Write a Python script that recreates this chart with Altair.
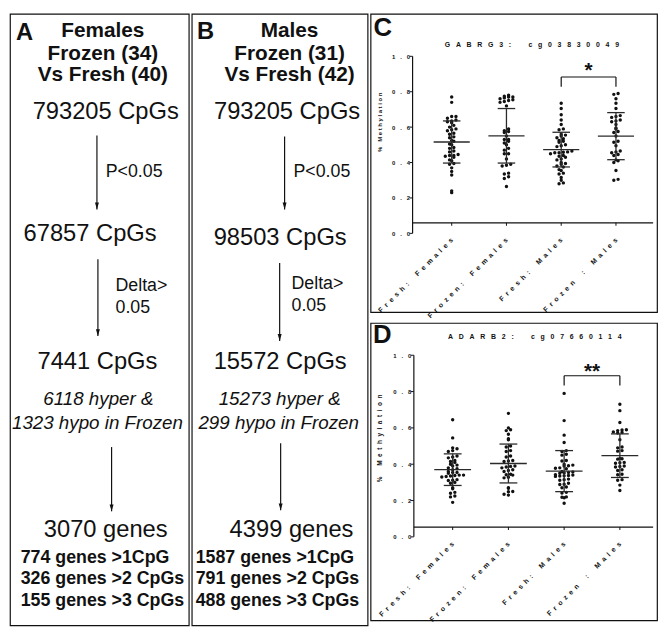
import altair as alt
import pandas as pd

FONT = "Liberation Sans, Arial, Helvetica, sans-serif"
INK = "#111111"
NB = "\u00a0"
ARROW = "M-0.5,-1.75L0.5,-1.75L0,0Z"


def spaced(s, gap=2):
    return (NB * gap).join(NB * gap if ch == " " else ch for ch in s)


# ---------------- Panel A / B : flow diagrams (text data) ----------------
a_letter = "A"
a_header = ["Females", "Frozen (34)", "Vs Fresh (40)"]
a_counts = ["793205 CpGs", "67857 CpGs", "7441 CpGs", "3070 genes"]
a_filters = ["P<0.05", "Delta>", "0.05"]
a_direction = ["6118 hyper &", "1323 hypo in Frozen"]
a_genes = ["774 genes >1CpG", "326 genes >2 CpGs", "155 genes >3 CpGs"]

b_letter = "B"
b_header = ["Males", "Frozen (31)", "Vs Fresh (42)"]
b_counts = ["793205 CpGs", "98503 CpGs", "15572 CpGs", "4399 genes"]
b_filters = ["P<0.05", "Delta>", "0.05"]
b_direction = ["15273 hyper &", "299 hypo in Frozen"]
b_genes = ["1587 genes >1CpG", "791 genes >2 CpGs", "488 genes >3 CpGs"]

# ---------------- Panel C / D : scatter dot plots ----------------
groups = ["Fresh: Females", "Frozen: Females", "Fresh: Males", "Frozen : Males"]
y_ticks = [0.0, 0.2, 0.4, 0.6, 0.8, 1.0]
y_title = "% Methylation"

c_title = "GABRG3: cg03830049"
c_fresh_females = [0.77, 0.74, 0.66, 0.66, 0.65, 0.64, 0.635, 0.63, 0.625, 0.61, 0.60,
                   0.59, 0.585, 0.58, 0.565, 0.56, 0.545, 0.54, 0.525, 0.52, 0.505, 0.50,
                   0.485, 0.48, 0.465, 0.46, 0.445, 0.44, 0.44, 0.435, 0.43, 0.415, 0.41,
                   0.395, 0.39, 0.37, 0.35, 0.33, 0.24, 0.23]
c_frozen_females = [0.78, 0.775, 0.77, 0.77, 0.765, 0.76, 0.755, 0.75, 0.745, 0.74, 0.72,
                    0.59, 0.58, 0.575, 0.57, 0.55, 0.53, 0.53, 0.52, 0.51, 0.50, 0.48, 0.47,
                    0.45, 0.45, 0.42, 0.39, 0.385, 0.38, 0.34, 0.335, 0.32, 0.31, 0.265]
c_fresh_males = [0.735, 0.705, 0.67, 0.64, 0.615, 0.59, 0.585, 0.56, 0.555, 0.55, 0.54,
                 0.535, 0.525, 0.52, 0.515, 0.50, 0.495, 0.49, 0.465, 0.46, 0.458, 0.455,
                 0.45, 0.455, 0.44, 0.435, 0.43, 0.42, 0.415, 0.40, 0.395, 0.39, 0.38, 0.375,
                 0.36, 0.355, 0.34, 0.335, 0.315, 0.30, 0.285, 0.28]
c_frozen_males = [0.79, 0.785, 0.76, 0.735, 0.705, 0.665, 0.66, 0.655, 0.64, 0.635, 0.63,
                  0.615, 0.595, 0.59, 0.575, 0.57, 0.55, 0.52, 0.515, 0.495, 0.465, 0.46,
                  0.455, 0.445, 0.44, 0.415, 0.41, 0.40, 0.355, 0.305, 0.30]
c_means = [0.516, 0.551, 0.473, 0.549]
c_sds = [0.119, 0.154, 0.098, 0.133]
c_sig = "*"

d_title = "ADARB2: cg07660114"
d_fresh_females = [0.645, 0.545, 0.49, 0.485, 0.475, 0.47, 0.445, 0.44, 0.435, 0.42, 0.415,
                   0.41, 0.40, 0.395, 0.39, 0.38, 0.375, 0.37, 0.36, 0.355, 0.35, 0.355,
                   0.34, 0.338, 0.335, 0.332, 0.33, 0.34, 0.315, 0.31, 0.312, 0.30, 0.295,
                   0.27, 0.265, 0.245, 0.24, 0.225, 0.22, 0.19]
d_frozen_females = [0.68, 0.60, 0.59, 0.585, 0.565, 0.54, 0.535, 0.50, 0.495, 0.475, 0.47,
                    0.445, 0.44, 0.42, 0.418, 0.415, 0.39, 0.388, 0.385, 0.38, 0.37, 0.365,
                    0.36, 0.345, 0.34, 0.342, 0.328, 0.325, 0.27, 0.268, 0.25, 0.248, 0.235, 0.23]
d_fresh_males = [0.79, 0.64, 0.56, 0.52, 0.475, 0.47, 0.455, 0.45, 0.42, 0.418, 0.40, 0.395,
                 0.39, 0.392, 0.38, 0.378, 0.375, 0.36, 0.355, 0.352, 0.35, 0.357, 0.34, 0.338,
                 0.335, 0.333, 0.342, 0.336, 0.318, 0.315, 0.312, 0.295, 0.29, 0.288, 0.275,
                 0.27, 0.245, 0.242, 0.22, 0.218, 0.215, 0.185]
d_frozen_males = [0.73, 0.695, 0.63, 0.59, 0.588, 0.585, 0.578, 0.575, 0.572, 0.535, 0.495,
                  0.49, 0.475, 0.472, 0.432, 0.43, 0.428, 0.41, 0.408, 0.405, 0.39, 0.388,
                  0.385, 0.37, 0.365, 0.345, 0.342, 0.315, 0.312, 0.285, 0.255]
d_means = [0.370, 0.404, 0.362, 0.447]
d_sds = [0.087, 0.107, 0.113, 0.120]
d_sig = "**"
sig_pair = [2, 3]

# ---------------- layout (reference pixels inside each box) ----------------
REF_FLOW_H = 628
FLOW_H = 619
a_layout = dict(
    letter=(15, 20),
    header=[(95, 18), (95, 41), (95, 63)],
    counts=[(98, 101), (82, 226), (89.5, 358), (98, 530)],
    filters=[(98, 163), (108, 280), (108, 302)],
    direction=[(90.5, 396), (89.5, 420)],
    genes=[(11, 559), (11, 581), (11, 603)],
    arrows=[(89, 125, 201), (90, 252, 331), (104, 445, 511)],
)
b_layout = dict(
    letter=(14, 19),
    header=[(99, 18), (99, 41), (99, 63)],
    counts=[(96.5, 101), (89.5, 230), (89.5, 358), (101, 530)],
    filters=[(103, 163), (101, 278), (101, 300)],
    direction=[(89, 396), (88, 420)],
    genes=[(4, 559), (4, 581), (4, 603)],
    arrows=[(94, 126, 201), (89, 256, 336), (90, 441, 510)],
)
c_layout = dict(axis_x=43, y0=224.5, y1=43.5, cat0=83, cat3=251, hline_y=213.7, hline_x2=289,
                xaxis_y=228, letter=(12.5, 15), title=(165, 32), ytitle=(10, 111),
                ytitle_size=6, ytitle_gap=1, bracket=(0.883, 0.828), star=0.95)
d_layout = dict(axis_x=44.3, y0=218.7, y1=33, cat0=84, cat3=255, hline_y=208.7, hline_x2=289,
                xaxis_y=222.5, letter=(12, 12), title=(168, 14), ytitle=(10, 118),
                ytitle_size=6.5, ytitle_gap=2, bracket=(0.887, 0.833), star=0.94)


def ternary(labels, key):
    expr = "''"
    for i in reversed(range(len(labels))):
        expr = f"{key} == {i} ? '{labels[i]}' : ({expr})"
    return expr


def flow_panel(letter, header, counts, filters, direction, genes, lay, ref_w, w):
    xs = alt.Scale(domain=[0, ref_w], range=[0, w], nice=False, zero=False)
    ys = alt.Scale(domain=[0, REF_FLOW_H], range=[0, FLOW_H], nice=False, zero=False)

    def frame(texts, pos):
        return pd.DataFrame({"x": [p[0] for p in pos], "y": [p[1] for p in pos], "t": texts})

    def text_layer(df, **style):
        return alt.Chart(df).mark_text(font=FONT, color=INK, baseline="middle", **style).encode(
            x=alt.X("x:Q", scale=xs, axis=None),
            y=alt.Y("y:Q", scale=ys, axis=None),
            text="t:N",
        )

    arr = pd.DataFrame(lay["arrows"], columns=["x", "y1", "y2"])
    shaft = alt.Chart(arr).mark_rule(color=INK, strokeWidth=1.2).encode(
        x=alt.X("x:Q", scale=xs, axis=None), y=alt.Y("y1:Q", scale=ys, axis=None), y2="y2:Q")
    head = alt.Chart(arr).mark_point(shape=ARROW, filled=True, size=64, color=INK, opacity=1).encode(
        x=alt.X("x:Q", scale=xs, axis=None), y=alt.Y("y2:Q", scale=ys, axis=None))
    layers = [
        text_layer(frame([letter], [lay["letter"]]), fontSize=24, fontWeight="bold", align="center"),
        text_layer(frame(header, lay["header"]), fontSize=21, fontWeight="bold", align="center"),
        text_layer(frame(counts, lay["counts"]), fontSize=24, align="center"),
        text_layer(frame(filters, lay["filters"]), fontSize=18, align="left"),
        text_layer(frame(direction, lay["direction"]), fontSize=19, fontStyle="italic", align="center"),
        text_layer(frame(genes, lay["genes"]), fontSize=18, fontWeight="bold", align="left"),
        shaft,
        head,
    ]
    return alt.layer(*layers).properties(width=w, height=FLOW_H)


def dot_panel(letter, title, series, means, sds, sig, lay, w, h, ref_w, ref_h):
    sx, sy = w / ref_w, h / ref_h
    ax_px = lay["axis_x"] * sx
    hl_px = lay["hline_y"] * sy
    top_px, bot_px = lay["y1"] * sy, lay["y0"] * sy

    df = pd.DataFrame([(i, v) for i, vals in enumerate(series) for v in vals], columns=["g", "v"])
    xs = alt.Scale(domain=[0, 3], range=[lay["cat0"] * sx, lay["cat3"] * sx], nice=False, zero=False)
    ys = alt.Scale(domain=[0, 1], range=[bot_px, top_px], nice=False, zero=False)
    xlab = ternary([spaced(c, 2) for c in groups], "round(datum.value)")
    ylab = ternary([spaced(f"{t:.1f}", 3) for t in y_ticks], "round(datum.value*5)")
    xaxis = alt.Axis(values=[0, 1, 2, 3], labelExpr=xlab, labelAngle=-45, labelAlign="right",
                     labelBaseline="middle", labelFlush=False, labelOverlap=False, labelFont=FONT,
                     labelFontSize=7, labelFontWeight="bold", labelColor=INK, labelPadding=2,
                     domain=False, ticks=False, grid=False, title=None,
                     offset=lay["xaxis_y"] * sy - h)
    yaxis = alt.Axis(values=y_ticks, labelExpr=ylab, labelFlush=False,
                     labelOverlap=False, labelFont=FONT, labelFontSize=6, labelFontWeight="bold",
                     labelColor=INK, labelPadding=3, domain=False, ticks=False, grid=False,
                     title=None, offset=-ax_px)

    pts = (
        alt.Chart(df)
        .transform_calculate(b="floor(datum.v / 0.018)")
        .transform_window(r="row_number()", groupby=["g", "b"], sort=[alt.SortField("v", order="ascending")])
        .transform_joinaggregate(n="count()", groupby=["g", "b"])
        .transform_calculate(xo="datum.g + (datum.r - (datum.n + 1) / 2) * 0.078")
        .mark_circle(size=12, color=INK, opacity=1)
        .encode(x=alt.X("xo:Q", scale=xs, axis=xaxis), y=alt.Y("v:Q", scale=ys, axis=yaxis))
    )

    line_style = dict(color=INK, strokeWidth=1.2)
    one = pd.DataFrame({"k": [0]})
    # y axis line (value 0 .. 1) and the x axis line, drawn as frame lines of the panel
    yline = alt.Chart(one).mark_rule(**line_style).encode(
        x=alt.value(ax_px), y=alt.value(top_px), y2=alt.value(bot_px))
    hline = alt.Chart(one).mark_rule(**line_style).encode(
        x=alt.value(ax_px), x2=alt.value(lay["hline_x2"] * sx), y=alt.value(hl_px))
    # y ticks at the tick values, through the y scale
    ytk = alt.Chart(pd.DataFrame({"t": y_ticks})).mark_tick(
        orient="horizontal", size=3, thickness=1, color=INK, opacity=1).encode(
        y=alt.Y("t:Q", scale=ys), x=alt.value(ax_px - 1.5))
    # small ticks under the x line at each group, through the x scale
    xtk = alt.Chart(pd.DataFrame({"c": list(range(len(groups)))})).mark_tick(
        orient="vertical", size=3, thickness=1, color=INK, opacity=1).encode(
        x=alt.X("c:Q", scale=xs), y=alt.value(hl_px + 1.5))

    st = pd.DataFrame({"g": list(range(4)), "m": means, "s": sds})
    base = alt.Chart(st).transform_calculate(
        lo="datum.m - datum.s", hi="datum.m + datum.s",
        ml="datum.g - 0.33", mr="datum.g + 0.33",
        cl="datum.g - 0.16", cr="datum.g + 0.16",
    )
    rule_style = dict(color="#2a2a2a", strokeWidth=1.3)
    mean_r = base.mark_rule(**rule_style).encode(
        x=alt.X("ml:Q", scale=xs), x2="mr:Q", y=alt.Y("m:Q", scale=ys))
    sd_r = base.mark_rule(**rule_style).encode(
        x=alt.X("g:Q", scale=xs), y=alt.Y("lo:Q", scale=ys), y2="hi:Q")
    cap_lo = base.mark_rule(**rule_style).encode(
        x=alt.X("cl:Q", scale=xs), x2="cr:Q", y=alt.Y("lo:Q", scale=ys))
    cap_hi = base.mark_rule(**rule_style).encode(
        x=alt.X("cl:Q", scale=xs), x2="cr:Q", y=alt.Y("hi:Q", scale=ys))

    btop, blow = lay["bracket"]
    p0, p1 = sig_pair
    br = pd.DataFrame({"x1": [p0, p0, p1], "x2": [p1, p0, p1], "y1": [btop, blow, blow], "y2": [btop, btop, btop]})
    bracket = alt.Chart(br).mark_rule(**line_style).encode(
        x=alt.X("x1:Q", scale=xs), x2="x2:Q", y=alt.Y("y1:Q", scale=ys), y2="y2:Q")
    star = alt.Chart(pd.DataFrame({"x": [(p0 + p1) / 2], "y": [lay["star"]], "t": [sig]})).mark_text(
        font=FONT, fontSize=21, fontWeight="bold", color=INK, baseline="middle", dy=6).encode(
        x=alt.X("x:Q", scale=xs), y=alt.Y("y:Q", scale=ys), text="t:N")

    ttl = alt.Chart(pd.DataFrame({"t": [spaced(title, 3)]})).mark_text(
        font=FONT, fontSize=7, fontWeight="bold", color=INK, baseline="middle", align="center").encode(
        x=alt.value(lay["title"][0] * sx), y=alt.value(lay["title"][1] * sy), text="t:N")
    let = alt.Chart(pd.DataFrame({"t": [letter]})).mark_text(
        font=FONT, fontSize=26, fontWeight="bold", color=INK, baseline="middle", align="center").encode(
        x=alt.value(lay["letter"][0] * sx), y=alt.value(lay["letter"][1] * sy), text="t:N")
    ytl = alt.Chart(pd.DataFrame({"t": [spaced(y_title, lay["ytitle_gap"])]})).mark_text(
        font=FONT, fontSize=lay["ytitle_size"], fontWeight="bold", color=INK, baseline="middle",
        align="center", angle=270).encode(
        x=alt.value(lay["ytitle"][0] * sx), y=alt.value(lay["ytitle"][1] * sy), text="t:N")

    return alt.layer(pts, mean_r, sd_r, cap_lo, cap_hi, bracket, star, ttl, let, ytl,
                     yline, hline, ytk, xtk).properties(width=w, height=h)


panel_a = flow_panel(a_letter, a_header, a_counts, a_filters, a_direction, a_genes, a_layout, 183, 181)
panel_b = flow_panel(b_letter, b_header, b_counts, b_filters, b_direction, b_genes, b_layout, 178, 178)
panel_c = dot_panel("C", c_title, [c_fresh_females, c_frozen_females, c_fresh_males, c_frozen_males],
                    c_means, c_sds, c_sig, c_layout, 290, 302, 293, 305)
panel_d = dot_panel("D", d_title, [d_fresh_females, d_frozen_females, d_fresh_males, d_frozen_males],
                    d_means, d_sds, d_sig, d_layout, 290, 301, 293, 304)

chart = (
    alt.hconcat(
        panel_a,
        panel_b,
        alt.vconcat(panel_c, panel_d, spacing=11, bounds="flush"),
        spacing=3,
        bounds="flush",
    )
    .properties(padding=1)
    .configure_view(stroke=INK, strokeWidth=1.2)
)

chart.save("out.html", embed_options={"renderer": "svg", "actions": False})
